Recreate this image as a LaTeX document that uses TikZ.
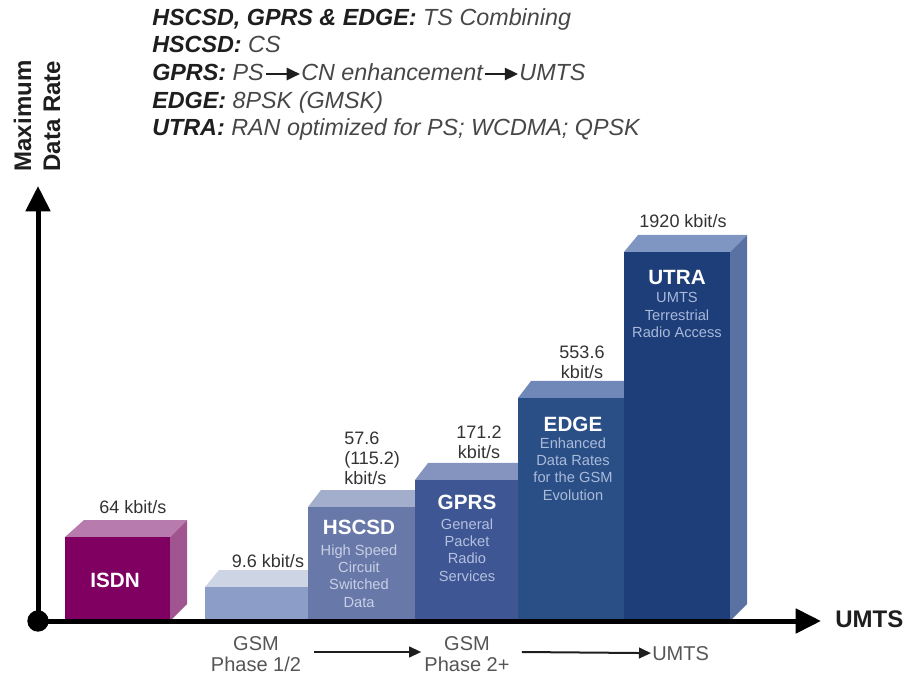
\documentclass[tikz,border=0pt]{standalone}
\usepackage{fontspec}
\setmainfont{Liberation Sans}
\usetikzlibrary{arrows.meta}
\definecolor{hdrdark}{HTML}{1E1E1E}
\definecolor{hdrlight}{HTML}{474747}
\definecolor{labgray}{HTML}{333333}
\definecolor{botgray}{HTML}{555555}
\definecolor{isdnF}{HTML}{7F0060}
\definecolor{isdnT}{HTML}{B87BAD}
\definecolor{isdnS}{HTML}{A05590}
\definecolor{gsmF}{HTML}{8C9DC8}
\definecolor{gsmT}{HTML}{CDD4E4}
\definecolor{hscF}{HTML}{6878A8}
\definecolor{hscT}{HTML}{A3AECC}
\definecolor{hscS}{HTML}{C8D0E6}
\definecolor{gprF}{HTML}{3E5694}
\definecolor{gprT}{HTML}{8594BF}
\definecolor{gprS}{HTML}{B4C0DE}
\definecolor{edgF}{HTML}{2A4F86}
\definecolor{edgT}{HTML}{7088B8}
\definecolor{edgS}{HTML}{AABAD9}
\definecolor{utrF}{HTML}{1D3E78}
\definecolor{utrT}{HTML}{7F95C2}
\definecolor{utrS}{HTML}{5A72A3}
\definecolor{utrSub}{HTML}{A8B8DA}
\newcommand\hb[1]{{\bfseries\itshape\color{hdrdark}#1}}
\newcommand\hi[1]{{\itshape\color{hdrlight}#1}}
\tikzset{
  hdr/.style={anchor=base west, inner sep=0pt, font=\fontsize{17.5}{20}\selectfont},
  harrow/.style={draw=hdrdark, line width=2pt, -{Triangle[length=10pt,width=9pt]}},
  axisline/.style={draw=black, line width=3.75pt, -{Triangle[length=19pt,width=18pt]}},
  ylab/.style={rotate=90, align=center, inner sep=0pt, text=hdrdark,
    font=\bfseries\fontsize{18}{21.75}\selectfont},
  vlab/.style={inner sep=0pt, text=labgray, align=center, font=\fontsize{13.5}{15}\selectfont},
  btitle/.style={inner sep=0pt, text=white, font=\bfseries\fontsize{15.5}{18}\selectfont},
  bsub/.style={inner sep=0pt, align=center, font=\fontsize{11}{13.1}\selectfont},
  blab/.style={inner sep=0pt, text=botgray, align=center, font=\fontsize{15}{16}\selectfont},
  barrow/.style={draw=hdrdark, line width=1.5pt, -{Triangle[length=9pt,width=8pt]}},
}
\begin{document}
\begin{tikzpicture}[x=0.75pt,y=-0.75pt]
\useasboundingbox (0,0) rectangle (904,677);

% ---------- header ----------
\node[hdr] (h1) at (152,26) {\hb{HSCSD, GPRS \& EDGE:} \hi{TS Combining}};
\node[hdr] (h2) at (152,53) {\hb{HSCSD:} \hi{CS}};
\node[hdr] (h3a) at (152,81) {\hb{GPRS:} \hi{PS}};
\node[hdr] (h3b) at ([shift={(37,0)}]h3a.base east) {\hi{CN enhancement}};
\node[hdr] (h3c) at ([shift={(36,0)}]h3b.base east) {\hi{UMTS}};
\draw[harrow] ([shift={(2,-7)}]h3a.base east) -- ([shift={(-1,-7)}]h3b.base west);
\draw[harrow] ([shift={(2,-7)}]h3b.base east) -- ([shift={(-1,-7)}]h3c.base west);
\node[hdr] (h4) at (152,109) {\hb{EDGE:} \hi{8PSK (GMSK)}};
\node[hdr] (h5) at (152,136) {\hb{UTRA:} \hi{RAN optimized for PS; WCDMA; QPSK}};

% ---------- y label ----------
\node[ylab] (ylab) at (37,116) {Maximum\\Data Rate};

% ---------- bars ----------
% ISDN
\fill[isdnT] (65,537) -- (170,537) -- (187,520) -- (84,520) -- cycle;
\fill[isdnS] (170,537) -- (187,520) -- (187,604) -- (170,621) -- cycle;
\fill[isdnF] (65,537) rectangle (170,621);
% GSM
\fill[gsmT] (205,587) -- (308,587) -- (325,570) -- (219,570) -- cycle;
\fill[gsmF] (205,587) rectangle (308,621);
% HSCSD
\fill[hscT] (308,507) -- (415,507) -- (432,490) -- (321,490) -- cycle;
\fill[hscF] (308,507) rectangle (415,621);
% GPRS
\fill[gprT] (415,480) -- (518,480) -- (535,463) -- (428,463) -- cycle;
\fill[gprF] (415,480) rectangle (518,621);
% EDGE
\fill[edgT] (518,398) -- (624,398) -- (641,381) -- (531,381) -- cycle;
\fill[edgF] (518,398) rectangle (624,621);
% UTRA
\fill[utrT] (624,252) -- (730,252) -- (747,235) -- (638,235) -- cycle;
\fill[utrS] (730,252) -- (747,235) -- (747,604) -- (730,621) -- cycle;
\fill[utrF] (624,252) rectangle (730,621);

% ---------- value labels ----------
\node[vlab] (v1) at (133,507) {64 kbit/s};
\node[vlab] (v2) at (268,561) {9.6 kbit/s};
\node[vlab, anchor=west, align=left] (v3) at (344,458) {57.6\\(115.2)\\kbit/s};
\node[vlab] (v4) at (479,442) {171.2\\kbit/s};
\node[vlab] (v5) at (582,362) {553.6\\kbit/s};
\node[vlab] (v6) at (683,221) {1920 kbit/s};

% ---------- bar titles ----------
\node[btitle] (t1) at (115,580) {ISDN};
\node[btitle] (t3) at (359,527) {HSCSD};
\node[bsub, text=hscS] (s3) at (359,576) {High Speed\\Circuit\\Switched\\Data};
\node[btitle] (t4) at (467,502) {GPRS};
\node[bsub, text=gprS] (s4) at (467,550) {General\\Packet\\Radio\\Services};
\node[btitle] (t5) at (573,424) {EDGE};
\node[bsub, text=edgS] (s5) at (573,469) {Enhanced\\Data Rates\\for the GSM\\Evolution};
\node[btitle] (t6) at (677,277) {UTRA};
\node[bsub, text=utrSub] (s6) at (677,315) {UMTS\\Terrestrial\\Radio Access};

% ---------- axes ----------
\coordinate (O) at (38,621);
\coordinate (ytip) at (38,186);
\coordinate (xtip) at (821,621);
\draw[axisline] (O) -- (ytip);
\draw[axisline] (O) -- (xtip);
\fill[black] (O) circle[radius=8pt];
\node[anchor=west, inner sep=0pt, text=hdrdark, font=\bfseries\fontsize{18}{20}\selectfont] (umts) at (835,619) {UMTS};

% ---------- bottom labels ----------
\node[blab] (g1) at (256,654) {GSM\\Phase 1/2};
\node[blab] (g2) at (467,654) {GSM\\Phase 2+};
\node[blab, anchor=base west] (u2) at (652,660) {UMTS};
\draw[barrow] ([shift={(13,-2)}]g1.east) -- ([shift={(-3,-2)}]g2.west);
\draw[barrow] ([shift={(12,-2)}]g2.east) -- ([shift={(-1,0)}]u2.west);
\end{tikzpicture}
\end{document}
